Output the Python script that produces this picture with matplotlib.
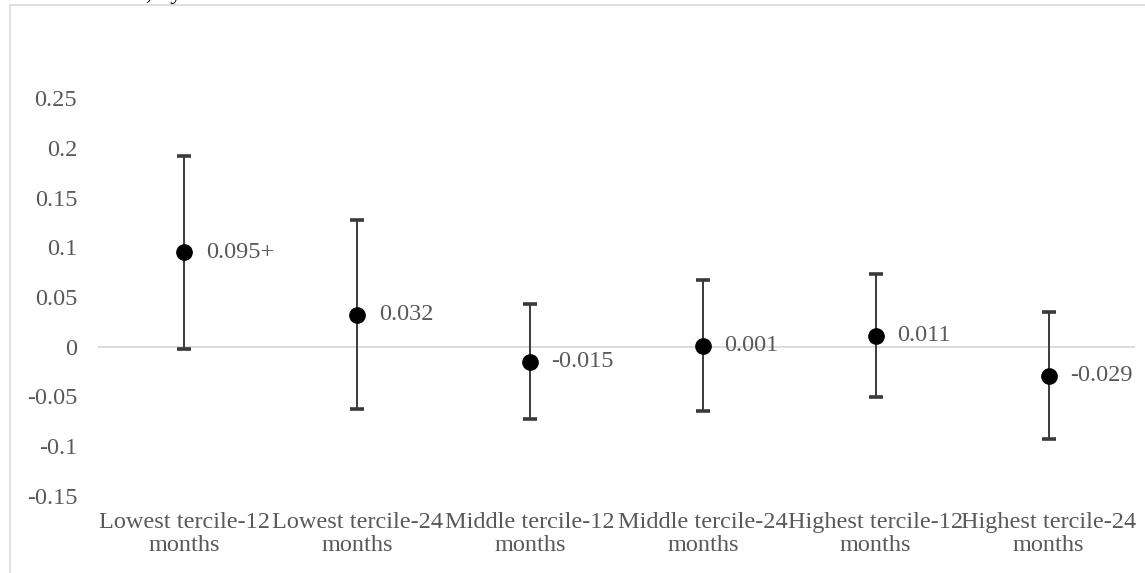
import matplotlib.pyplot as plt
from matplotlib.patches import Rectangle

# 資料
categories = ['Lowest tercile-12\nmonths', 'Lowest tercile-24\nmonths',
              'Middle tercile-12\nmonths', 'Middle tercile-24\nmonths',
              'Highest tercile-12\nmonths', 'Highest tercile-24\nmonths']
estimates = [0.095, 0.032, -0.015, 0.001, 0.011, -0.029]
ci_half = [0.097, 0.095, 0.058, 0.066, 0.062, 0.064]
value_labels = ['0.095+', '0.032', '-0.015', '0.001', '0.011', '-0.029']
yticks = [-0.15, -0.1, -0.05, 0, 0.05, 0.1, 0.15, 0.2, 0.25]
ytick_labels = ['-0.15', '-0.1', '-0.05', '0', '0.05', '0.1', '0.15', '0.2', '0.25']

W, H = 1145, 573
plt.rcParams['font.family'] = ['Liberation Serif', 'DejaVu Serif']
text_color = '#595959'
fs = 17.5

fig = plt.figure(figsize=(W / 100, H / 100), dpi=100)

# 圖表外框（部分超出畫面）
fig.patches.append(Rectangle((10.5 / W, -0.1), 1.2, 1 - 5.5 / H + 0.1,
                             transform=fig.transFigure, fill=False,
                             edgecolor='#d9d9d9', linewidth=1.2))
# 頂端被截掉的標題文字
fig.text(146 / W, 1 + 1.5 / H, ', by', fontsize=fs, color='black',
         va='baseline', ha='left')

ax = fig.add_axes([98 / W, 77 / H, (1135 - 98) / W, (496 - 98) / H])
x = list(range(len(categories)))

ax.axhline(0, color='#d9d9d9', linewidth=1.3, zorder=1)
ax.errorbar(x, estimates, yerr=ci_half, fmt='o', color='black', markersize=11,
            ecolor='#3a3a3a', elinewidth=1.4, capsize=5, capthick=2.6, zorder=3)

for xi, yi, lab in zip(x, estimates, value_labels):
    ax.annotate(lab, (xi, yi), xytext=(15.5, 0), textcoords='offset points',
                va='center', ha='left', fontsize=fs, color=text_color)

ax.set_xlim(-0.5, len(categories) - 0.5)
ax.set_ylim(-0.15, 0.25)
ax.set_yticks(yticks)
ax.set_yticklabels(ytick_labels)
ax.set_xticks(x)
ax.set_xticklabels(categories, linespacing=1.12)
ax.tick_params(axis='both', length=0, labelsize=fs, labelcolor=text_color)
ax.tick_params(axis='y', pad=15)
ax.tick_params(axis='x', pad=11.5)
for s in ax.spines.values():
    s.set_visible(False)

fig.savefig('out.png', dpi=100)
